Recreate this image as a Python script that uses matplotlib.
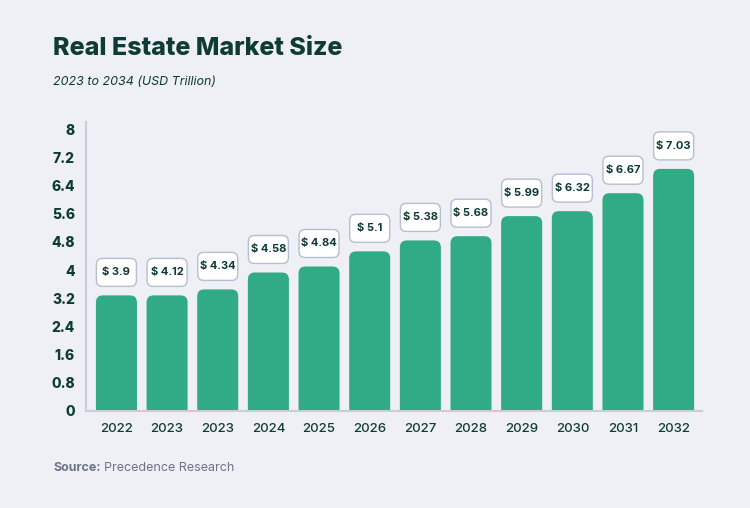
import matplotlib.pyplot as plt
from matplotlib.patches import FancyBboxPatch, PathPatch
from matplotlib.path import Path

# data
years = ['2022', '2023', '2023', '2024', '2025', '2026', '2027', '2028',
         '2029', '2030', '2031', '2032']
bar_heights = [3.28, 3.28, 3.45, 3.93, 4.10, 4.53, 4.84, 4.96, 5.53, 5.67,
               6.18, 6.87]
labels = ['$ 3.9', '$ 4.12', '$ 4.34', '$ 4.58', '$ 4.84', '$ 5.1', '$ 5.38',
          '$ 5.68', '$ 5.99', '$ 6.32', '$ 6.67', '$ 7.03']
y_ticks = [0, 0.8, 1.6, 2.4, 3.2, 4, 4.8, 5.6, 6.4, 7.2, 8]
y_tick_labels = ['0', '0.8', '1.6', '2.4', '3.2', '4', '4.8', '5.6', '6.4',
                 '7.2', '8']

BG = '#eef0f5'
GREEN = '#31aa86'
DARK = '#0f3b36'
AXIS = '#c9cdd9'
BORDER = '#b7bdd3'
GRAY = '#6e7487'

plt.rcParams['font.family'] = ['Inter', 'DejaVu Sans']

fig = plt.figure(figsize=(7.5, 5.08), dpi=100, facecolor=BG)
ax = fig.add_axes([0.1147, 0.191, 0.8213, 0.5688], facecolor=BG)

ax.set_xlim(-0.6, len(years) - 1 + 0.56)
ax.set_ylim(0, 8.2)

# pixels -> data units, to get round corners right
ax_w = 0.8213 * 750
ax_h = 0.5688 * 508
ux = (len(years) - 1 + 1.16) / ax_w
uy = 8.2 / ax_h
aspect = uy / ux


def top_rounded_bar(x0, w, h, rx, ry):
    x1 = x0 + w
    verts = [(x0, 0), (x0, h - ry), (x0, h), (x0 + rx, h), (x1 - rx, h),
             (x1, h), (x1, h - ry), (x1, 0), (x0, 0)]
    codes = [Path.MOVETO, Path.LINETO, Path.CURVE3, Path.CURVE3, Path.LINETO,
             Path.CURVE3, Path.CURVE3, Path.LINETO, Path.CLOSEPOLY]
    return Path(verts, codes)


bw = 0.81
r = 6 * ux
for i, h in enumerate(bar_heights):
    x0 = i - bw / 2
    ax.add_patch(PathPatch(top_rounded_bar(x0, bw, h, 7 * ux, 7 * uy),
                           fc=GREEN, ec='none', zorder=2))

    # value label box
    by = h + 9 * uy
    bh = 28 * uy
    ax.add_patch(FancyBboxPatch((x0 + 0.01, by), bw - 0.02, bh,
                                boxstyle=f'round,pad=0,rounding_size={r}',
                                mutation_aspect=aspect, fc='white',
                                ec=BORDER, lw=1, zorder=3, clip_on=False))
    ax.text(i, by + bh / 2, labels[i], ha='center', va='center',
            fontsize=8, fontweight='bold', color=DARK, zorder=4)

ax.set_xticks(range(len(years)))
ax.set_xticklabels(years, fontsize=9.5, fontweight='medium', color=DARK)
ax.set_yticks(y_ticks)
ax.set_yticklabels(y_tick_labels, fontsize=10, fontweight='heavy', color=DARK)
ax.tick_params(axis='both', length=0)
ax.tick_params(axis='x', pad=9)
ax.tick_params(axis='y', pad=8)

for side in ['top', 'right']:
    ax.spines[side].set_visible(False)
for side in ['left', 'bottom']:
    ax.spines[side].set_color(AXIS)
    ax.spines[side].set_linewidth(1.5)

fig.text(0.0707, 0.9055, 'Real Estate Market Size', fontsize=18,
         fontweight='heavy', color=DARK, va='center')
fig.text(0.0707, 0.838, '2023 to 2034 (USD Trillion)', fontsize=9,
         style='italic', color=DARK, va='center')

src = fig.text(0.0707, 0.079, 'Source:', fontsize=9, fontweight='bold',
               color=GRAY, va='center')
fig.canvas.draw()
bb = src.get_window_extent()
fig.text((bb.x1 + 3) / 750, 0.079, 'Precedence Research', fontsize=9,
         color=GRAY, va='center')

fig.savefig('out.png', dpi=100, facecolor=BG)
